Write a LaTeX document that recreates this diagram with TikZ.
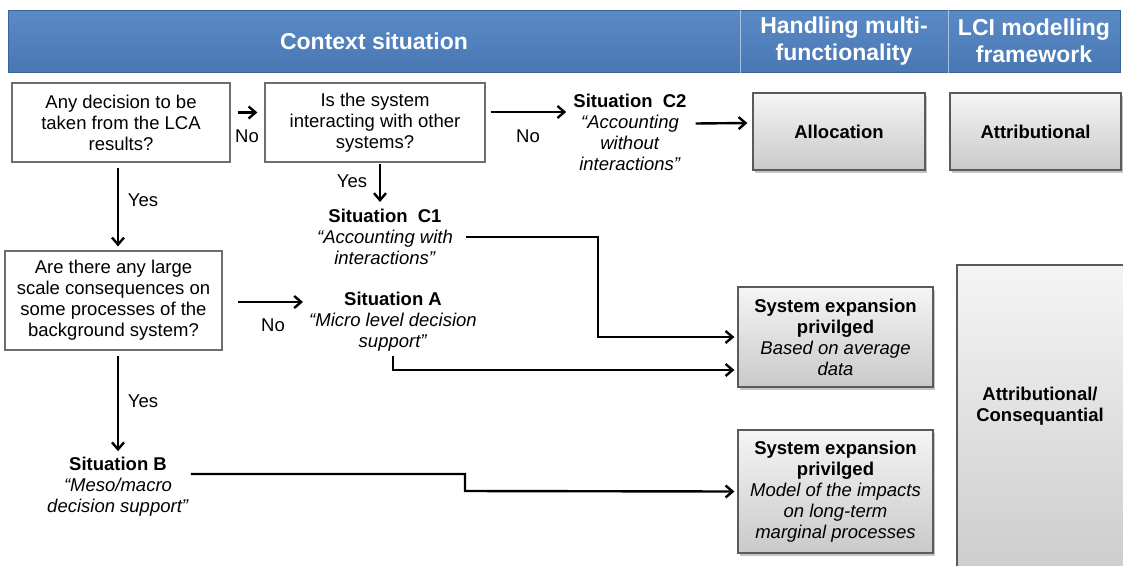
\documentclass[tikz,border=0pt]{standalone}
\usepackage{fontspec}
\setmainfont{Liberation Sans}
\usetikzlibrary{arrows.meta,shadows,calc}
\definecolor{hdrblue}{HTML}{4F81BD}
\definecolor{hdrtop}{HTML}{5B8BC6}
\definecolor{hdrbot}{HTML}{4877B3}
\definecolor{hdredge}{HTML}{3A659C}
\definecolor{hdrsep}{HTML}{A9C2E2}
\definecolor{qedge}{HTML}{6E6E6E}
\definecolor{gedge}{HTML}{5A5A5A}
\tikzset{
  txt/.style={font=\fontsize{18.5}{21}\selectfont, align=center, inner sep=0pt},
  hdrtxt/.style={font=\fontsize{23}{27}\selectfont\bfseries, text=white, align=center, inner sep=0pt},
  hdrbox/.style={draw=hdredge, line width=1pt, top color=hdrtop, bottom color=hdrbot, inner sep=0pt},
  qbox/.style={txt, draw=qedge, line width=1.2pt, fill=white},
  gbox/.style={txt, draw=gedge, line width=1.2pt, top color=gray!8, bottom color=gray!42,
    drop shadow={opacity=0.45, shadow xshift=2pt, shadow yshift=-2.5pt}},
  arr/.style={-{Straight Barb[length=7pt,width=12pt]}, line width=2.4pt},
  lbl/.style={txt}
}
\begin{document}
\begin{tikzpicture}[x=1pt,y=-1pt]
\useasboundingbox (0,0) rectangle (1123,565);
% header
\node[hdrbox, minimum width=732pt, minimum height=62pt] (h1) at (374,41) {};
\node[hdrbox, minimum width=208pt, minimum height=62pt] (h2) at (844,41) {};
\node[hdrbox, minimum width=172pt, minimum height=62pt] (h3) at (1034,41) {};
\draw[hdrsep, line width=1.2pt] (h1.north east) -- (h1.south east);
\draw[hdrsep, line width=1.2pt] (h2.north east) -- (h2.south east);
\node[hdrtxt] (t1) at (h1) {Context situation};
\node[hdrtxt] (t2) at (h2) {Handling multi-\\functionality};
\node[hdrtxt] (t3) at (h3) {LCI modelling\\framework};
% question boxes
\node[qbox, minimum width=218pt, minimum height=79pt] (box1) at (121,122.5) {Any decision to be\\taken from the LCA\\results?};
\node[qbox, minimum width=220pt, minimum height=79pt] (box2) at (375,122.5) {Is the system\\interacting with other\\systems?};
\node[qbox, minimum width=217pt, minimum height=99pt] (box3) at (113.5,300.5) {Are there any large\\scale consequences on\\some processes of the\\background system?};
% situations
\node[txt] (c2) at (630,132.5) {\textbf{Situation\ \ C2}\\\textit{“Accounting}\\\textit{without}\\\textit{interactions”}};
\node[txt] (c1) at (385,237) {\textbf{Situation\ \ C1}\\\textit{“Accounting with}\\\textit{interactions”}};
\node[txt] (sitA) at (393,322) {\textbf{Situation A}\\\textit{“Micro level decision}\\\textit{support”}};
\node[txt] (sitB) at (118,487) {\textbf{Situation B}\\\textit{“Meso/macro}\\\textit{decision support”}};
% right boxes
\node[gbox, minimum width=172pt, minimum height=77pt] (alloc) at (839,131.5) {\textbf{Allocation}};
\node[gbox, minimum width=171pt, minimum height=77pt] (attr) at (1035.5,131.5) {\textbf{Attributional}};
\node[gbox, minimum width=195pt, minimum height=100pt] (se1) at (835.5,337) {\textbf{System expansion}\\\textbf{privilged}\\\textit{Based on average}\\\textit{data}};
\node[gbox, minimum width=195pt, minimum height=123pt] (se2) at (835.5,491.5) {\textbf{System expansion}\\\textbf{privilged}\\\textit{Model of the impacts}\\\textit{on long-term}\\\textit{marginal processes}};
\node[gbox, minimum width=175pt, minimum height=330pt] (big) at (1044.5,430) {};
\node[txt] (bigtxt) at (1040,406) {\textbf{Attributional/}\\\textbf{Consequantial}};
% labels
\node[lbl] (no1) at (247,136) {No};
\node[lbl] (no2) at (528,136) {No};
\node[lbl] (no3) at (273,325) {No};
\node[lbl] (yes1) at (143,200) {Yes};
\node[lbl] (yes2) at (352,181) {Yes};
\node[lbl] (yes3) at (143,401) {Yes};
% bend points
\coordinate (k1) at (598,237);
\coordinate (k2) at (465,474);
\coordinate (k3) at (465,491);
% connectors
\draw[arr] ([xshift=7pt,yshift=10pt]box1.east) -- ([xshift=-7pt,yshift=10pt]box2.west);
\draw[arr] ([xshift=5pt,yshift=10.5pt]box2.east) -- ([xshift=-7pt,yshift=20.5pt]c2.west);
\draw[arr] ([xshift=9pt,yshift=9pt]c2.east) -- ([xshift=-5pt,yshift=8.5pt]alloc.west);
\draw[arr] ([xshift=-3pt,yshift=-5pt]box1.south) -- ([xshift=-3pt,yshift=4pt]box1.south |- box3.north);
\draw[arr] ([xshift=5pt,yshift=-1pt]box2.south) -- ([xshift=5pt,yshift=7pt]box2.south |- c1.north);
\draw[arr] ([xshift=13pt]c1.east) -- (k1) |- ([xshift=-3pt]se1.west);
\draw[arr] ([xshift=15pt,yshift=-1.5pt]box3.east) -- ([xshift=-6pt,yshift=20pt]sitA.west);
\draw[arr] ([yshift=-4pt]sitA.south) |- ([xshift=-3pt,yshift=-33pt]se1.west);
\draw[arr] ([xshift=4.5pt,yshift=-5pt]box3.south) -- ([xshift=4.5pt,yshift=6pt]box3.south |- sitB.north);
\draw[arr] ([xshift=2pt,yshift=13pt]sitB.east) -- (k2) -- (k3) -- ([xshift=-3pt]se2.west);
\end{tikzpicture}
\end{document}
